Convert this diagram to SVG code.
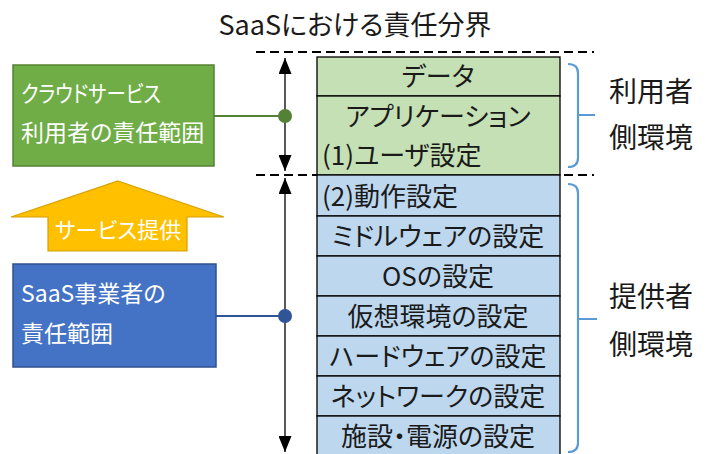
<svg xmlns="http://www.w3.org/2000/svg" width="709" height="454" viewBox="0 0 709 454">
<defs>
<style>
text{font-family:"Noto Sans CJK JP","Noto Sans",sans-serif;font-feature-settings:"palt";}
.t{fill:#1a1a1a;font-size:26px;}
.w{fill:#ffffff;font-size:23px;}
.r{fill:#1a1a1a;font-size:28px;}
.dash{stroke:#000;stroke-width:2;stroke-dasharray:9 5;fill:none;}
.rowg{fill:#C5E0B4;stroke:#000;stroke-width:1.3;}
.rowb{fill:#BDD7EE;stroke:#000;stroke-width:1.3;}
.brace{fill:none;stroke:#5B9BD5;stroke-width:2.2;}
.vline{stroke:#000;stroke-width:1.3;}
</style>
<marker id="ah" viewBox="0 0 16 13" refX="16" refY="6.5" markerWidth="16" markerHeight="13" markerUnits="userSpaceOnUse" orient="auto-start-reverse">
<path d="M0,0 L16,6.5 L0,13 Z" fill="#000"/>
</marker>
</defs>
<rect width="709" height="454" fill="#fff"/>
<text x="355" y="35" text-anchor="middle" style="font-size:27px;fill:#1a1a1a">SaaSにおける責任分界</text>

<g id="dashes">
<line class="dash" x1="256" y1="52" x2="594" y2="52"/>
<line class="dash" x1="256" y1="175" x2="594" y2="175"/>
</g>

<g id="user-stack">
<rect class="rowg" x="317" y="57" width="243" height="39"/>
<rect class="rowg" x="317" y="96" width="243" height="79"/>
<text class="t" x="438" y="86" text-anchor="middle">データ</text>
<text class="t" x="438" y="126" text-anchor="middle">アプリケーション</text>
<text class="t" x="322" y="165">(1)ユーザ設定</text>
</g>

<g id="provider-stack">
<rect class="rowb" x="317" y="175" width="243" height="41"/>
<rect class="rowb" x="317" y="216" width="243" height="40"/>
<rect class="rowb" x="317" y="256" width="243" height="40"/>
<rect class="rowb" x="317" y="296" width="243" height="40"/>
<rect class="rowb" x="317" y="336" width="243" height="40"/>
<rect class="rowb" x="317" y="376" width="243" height="40"/>
<rect class="rowb" x="317" y="416" width="243" height="45"/>
<text class="t" x="322" y="206">(2)動作設定</text>
<text class="t" x="438" y="246" text-anchor="middle">ミドルウェアの設定</text>
<text class="t" x="438" y="286" text-anchor="middle">OSの設定</text>
<text class="t" x="438" y="326" text-anchor="middle">仮想環境の設定</text>
<text class="t" x="438" y="366" text-anchor="middle">ハードウェアの設定</text>
<text class="t" x="438" y="406" text-anchor="middle">ネットワークの設定</text>
<text class="t" x="438" y="446" text-anchor="middle">施設・電源の設定</text>
</g>

<g id="user-box">
<rect x="13" y="65" width="201" height="101" fill="#70AD47" stroke="#548235" stroke-width="1.5"/>
<text class="w" x="21" y="102" textLength="140" lengthAdjust="spacingAndGlyphs">クラウドサービス</text>
<text class="w" x="21" y="141">利用者の責任範囲</text>
</g>

<g id="service-arrow">
<polygon points="118,181 224,217 187,217 187,251 48,251 48,217 11,217" fill="#FFC000" stroke="#D6A000" stroke-width="1.2"/>
<text class="w" x="118" y="238" text-anchor="middle" style="font-size:22px">サービス提供</text>
</g>

<g id="provider-box">
<rect x="13" y="264" width="203" height="103" fill="#4472C4" stroke="#2F528F" stroke-width="1.5"/>
<text class="w" x="21" y="302">SaaS事業者の</text>
<text class="w" x="21" y="342">責任範囲</text>
</g>

<g id="labels">
<text class="r" x="609" y="102">利用者</text>
<text class="r" x="609" y="148">側環境</text>
<text class="r" x="609" y="307">提供者</text>
<text class="r" x="609" y="355">側環境</text>
</g>

<g id="connectors">
<line class="vline" x1="285" y1="58" x2="285" y2="171" marker-start="url(#ah)" marker-end="url(#ah)"/>
<line class="vline" x1="285" y1="178" x2="285" y2="452" marker-start="url(#ah)" marker-end="url(#ah)"/>
<line x1="214" y1="116" x2="285" y2="116" stroke="#548235" stroke-width="2"/>
<circle cx="285" cy="116" r="7" fill="#538135"/>
<line x1="216" y1="316" x2="285" y2="316" stroke="#2F5597" stroke-width="2"/>
<circle cx="285" cy="316" r="7" fill="#2F5597"/>
<path class="brace" d="M568,64 Q578,64 578,73 L578,158 Q578,167 568,167 M578,115 L595,115"/>
<path class="brace" d="M568,184 Q578,184 578,193 L578,443 Q578,452 568,452 M578,319 L597,319"/>
</g>
</svg>
